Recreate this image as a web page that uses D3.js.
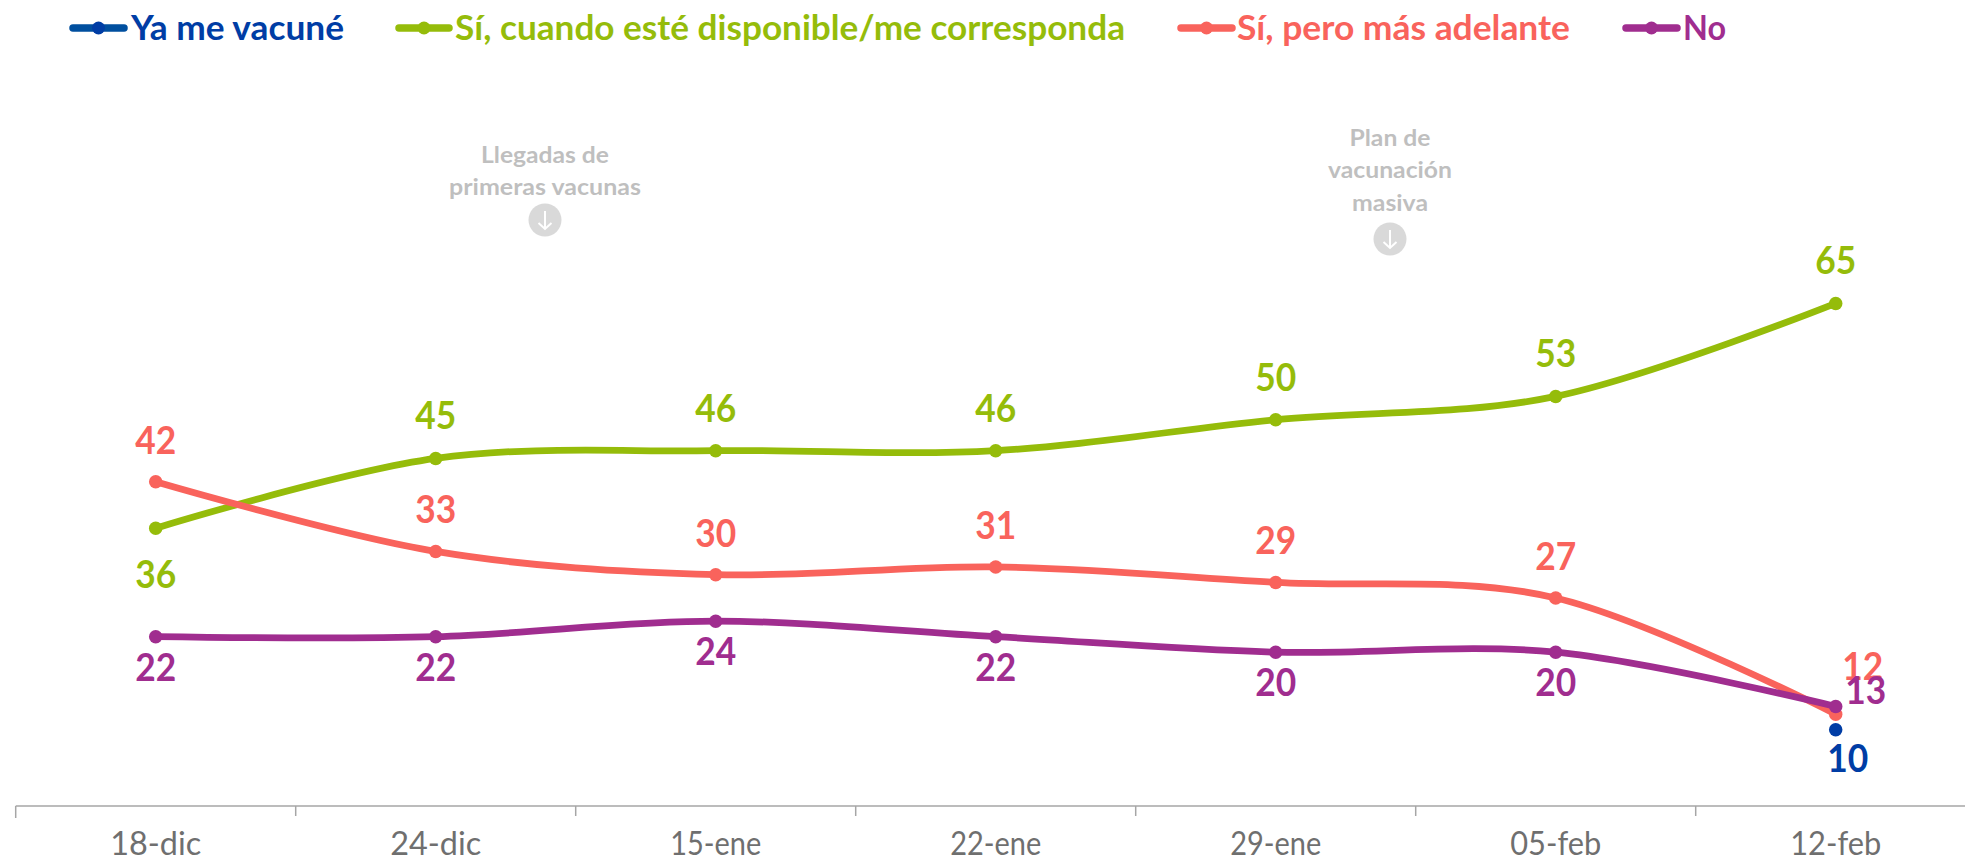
<!DOCTYPE html>
<html lang="es">
<head>
<meta charset="utf-8">
<script src="https://cdn.jsdelivr.net/npm/d3@7"></script>
<style>
html,body{margin:0;padding:0;background:#fff;overflow:hidden}
svg{display:block}
text{font-family:Lato,"Noto Sans",sans-serif}
</style>
</head>
<body>
<svg id="chart" width="1965" height="859"></svg>
<script>
const categories = ["18-dic","24-dic","15-ene","22-ene","29-ene","05-feb","12-feb"];
const yaMeVacune = [null,null,null,null,null,null,10];
const cuandoDisponible = [36,45,46,46,50,53,65];
const masAdelante = [42,33,30,31,29,27,12];
const no = [22,22,24,22,20,20,13];
const seriesNames = ["Ya me vacuné","Sí, cuando esté disponible/me corresponda","Sí, pero más adelante","No"];
const annotationLeft = ["Llegadas de","primeras vacunas"];
const annotationRight = ["Plan de","vacunación","masiva"];

const colors = {line:["#004F9F","#95BC0A","#F9635C","#A02D8F"], text:["#003DA5","#95BC0A","#F9635C","#A02D8F"]};
const series = [yaMeVacune,cuandoDisponible,masAdelante,no];

const svg = d3.select("#chart");
const x = d3.scaleBand().domain(categories).range([15.7,1975.7]);
const y = d3.scaleLinear().domain([0,65]).range([807.2,303.4]);
const px = c => x(c)+x.bandwidth()/2;

// Axis
const axisY = 806;
const axisG = svg.append("g").attr("transform",`translate(0,${axisY})`)
  .call(d3.axisBottom(x).tickSize(0).tickPadding(0));
axisG.select(".domain").remove();
axisG.selectAll("text")
  .attr("y",49).attr("dy",0)
  .attr("font-size",32).attr("fill","#6F6F6F")
  .attr("textLength",91).attr("lengthAdjust","spacingAndGlyphs")
  .style("font-family","Lato,'Noto Sans',sans-serif");
svg.append("line").attr("x1",15.7).attr("x2",1965).attr("y1",axisY).attr("y2",axisY)
  .attr("stroke","#A6A6A6").attr("stroke-width",1.5);
svg.selectAll("line.tick").data(categories).join("line").attr("class","tick")
  .attr("x1",c=>x(c)).attr("x2",c=>x(c))
  .attr("y1",axisY).attr("y2",(c,i)=>axisY+(i===0?12:10))
  .attr("stroke","#A6A6A6").attr("stroke-width",1.5);

// Lines and points
const line = d3.line().defined(d=>d.v!==null).x(d=>px(d.c)).y(d=>y(d.v)).curve(d3.curveCatmullRom.alpha(0));
series.forEach((vals,s)=>{
  const pts = vals.map((v,i)=>({c:categories[i],v}));
  svg.append("path").datum(pts).attr("d",line).attr("fill","none")
    .attr("stroke",colors.line[s]).attr("stroke-width",6.75).attr("stroke-linecap","round");
  svg.selectAll(null).data(pts.filter(d=>d.v!==null)).join("circle")
    .attr("cx",d=>px(d.c)).attr("cy",d=>y(d.v)).attr("r",6.75)
    .attr("fill",s===0?colors.text[0]:colors.line[s]);
});

// Data labels: baseline offset from the point, by series, with a few exceptions
const baseDy = [42,-29,-28,44];
const exceptions = {"1-0":{dx:0,dy:60},"2-6":{dx:27,dy:-34},"3-6":{dx:30,dy:-2},"0-6":{dx:12,dy:42}};
[0,1,2,3].forEach(s=>{
  series[s].forEach((v,i)=>{
    if(v===null) return;
    const e = exceptions[s+"-"+i]||{dx:0,dy:baseDy[s]};
    svg.append("text").attr("x",px(categories[i])+e.dx).attr("y",y(v)+e.dy)
      .attr("text-anchor","middle").attr("font-size",39).attr("font-weight",700)
      .attr("textLength",41).attr("lengthAdjust","spacingAndGlyphs")
      .attr("fill",colors.text[s]).text(v);
  });
});

// Legend
const legendX = [[69,128,131,213],[395,453,455,670],[1177,1236,1237,333],[1622,1681,1683,43]];
const legendY = 28;
seriesNames.forEach((n,s)=>{
  const [a,b,t,w] = legendX[s];
  svg.append("line").attr("x1",a+4).attr("x2",b-4).attr("y1",legendY).attr("y2",legendY)
    .attr("stroke",colors.line[s]).attr("stroke-width",7.5).attr("stroke-linecap","round");
  svg.append("circle").attr("cx",(a+b)/2).attr("cy",legendY).attr("r",6.5)
    .attr("fill",s===0?colors.text[0]:colors.line[s]);
  svg.append("text").attr("x",t).attr("y",legendY+11.5)
    .attr("font-size",34).attr("font-weight",700).attr("fill",colors.text[s])
    .attr("textLength",w).attr("lengthAdjust","spacingAndGlyphs").text(n);
});

// Annotations
function annotation(lines,cx,ys,widths,cy){
  lines.forEach((t,i)=>{
    svg.append("text").attr("x",cx).attr("y",ys[i]).attr("text-anchor","middle")
      .attr("font-size",23).attr("font-weight",700).attr("fill","#BFBFBF")
      .attr("textLength",widths[i]).attr("lengthAdjust","spacingAndGlyphs").text(t);
  });
  svg.append("circle").attr("cx",cx).attr("cy",cy).attr("r",16.5).attr("fill","#D9D9D9");
  svg.append("path").attr("d",`M${cx},${cy-9}V${cy+9}M${cx-6.5},${cy+3}L${cx},${cy+9}L${cx+6.5},${cy+3}`)
    .attr("fill","none").attr("stroke","#fff").attr("stroke-width",2);
}
annotation(annotationLeft,545,[163,195],[128,192],220);
annotation(annotationRight,1390,[146,178,211],[81,124,76],239);
</script>
</body>
</html>
